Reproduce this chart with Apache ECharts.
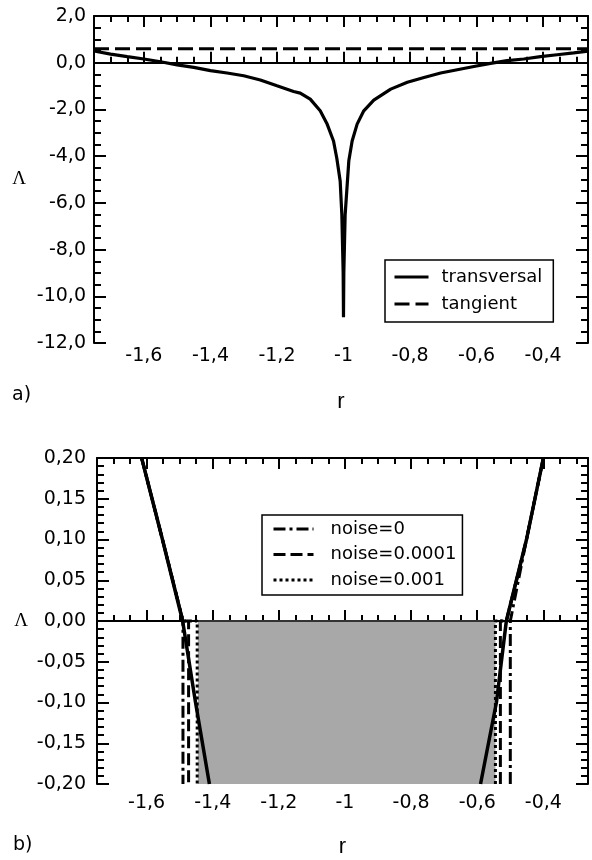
<!DOCTYPE html>
<html><head><meta charset="utf-8">
<script src="https://cdn.jsdelivr.net/npm/echarts@6/dist/echarts.min.js"></script>
<style>html,body{margin:0;padding:0;background:#fff}#c{width:592px;height:860px}</style>
</head><body><div id="c"></div>
<script>
// ---------- data ----------
const xRange = [-1.75, -0.265];
const xMajorTicks = [-1.6, -1.4, -1.2, -1, -0.8, -0.6, -0.4];
const xTickLabels = ['-1,6', '-1,4', '-1,2', '-1', '-0,8', '-0,6', '-0,4'];
const xMinorTicks = [-1.7, -1.65, -1.55, -1.5, -1.45, -1.35, -1.3, -1.25, -1.15, -1.1, -1.05,
  -0.95, -0.9, -0.85, -0.75, -0.7, -0.65, -0.55, -0.5, -0.45, -0.35, -0.3];

// panel a)
const yTopTicks = [2, 0, -2, -4, -6, -8, -10, -12];
const yTopLabels = ['2,0', '0,0', '-2,0', '-4,0', '-6,0', '-8,0', '-10,0', '-12,0'];
const transR = [-1.75, -1.7, -1.65, -1.6, -1.55, -1.5, -1.45, -1.4, -1.35, -1.3, -1.25, -1.2, -1.15, -1.13,
  -1.1, -1.07, -1.05, -1.03, -1.02, -1.01, -1.005, -1.001, -1.0, -0.999, -0.995, -0.984, -0.974, -0.959,
  -0.939, -0.909, -0.858, -0.808, -0.758, -0.708, -0.658, -0.608, -0.558, -0.508, -0.458, -0.408,
  -0.358, -0.308, -0.265];
const transL = [0.5, 0.37, 0.26, 0.16, 0.04, -0.09, -0.2, -0.34, -0.44, -0.56, -0.74, -0.99, -1.23, -1.3,
  -1.56, -2.06, -2.6, -3.35, -4.1, -5.06, -6.5, -9.0, -10.9, -9.0, -6.5, -4.2, -3.35, -2.63,
  -2.06, -1.6, -1.13, -0.84, -0.63, -0.44, -0.3, -0.16, -0.03, 0.09, 0.16, 0.26,
  0.34, 0.42, 0.49];
const tangR = [-1.75, -0.265];
const tangL = [0.6, 0.6];
const zeroR = [-1.75, -0.265];
const zeroL = [0, 0];

// panel b)
const yBotTicks = [0.2, 0.15, 0.1, 0.05, 0, -0.05, -0.1, -0.15, -0.2];
const yBotLabels = ['0,20', '0,15', '0,10', '0,05', '0,00', '-0,05', '-0,10', '-0,15', '-0,20'];
const curveLeftR = [-1.615, -1.552, -1.491, -1.452, -1.41];
const curveLeftL = [0.2, 0.1, 0, -0.1, -0.2];
const curveRightR = [-0.59, -0.542, -0.512, -0.451, -0.4];
const curveRightL = [-0.2, -0.1, 0, 0.1, 0.2];
const noise0LeftR = [-1.615, -1.552, -1.49, -1.49];
const noise0LeftL = [0.2, 0.1, 0, -0.2];
const noise0RightR = [-0.5, -0.5, -0.451, -0.4];
const noise0RightL = [-0.2, 0, 0.1, 0.2];
const noise1LeftR = [-1.615, -1.552, -1.49, -1.473, -1.473];
const noise1LeftL = [0.2, 0.1, 0, 0, -0.2];
const noise1RightR = [-0.53, -0.53, -0.512, -0.451, -0.4];
const noise1RightL = [-0.2, 0, 0, 0.1, 0.2];
const noise2LeftR = [-1.615, -1.552, -1.49, -1.447, -1.447];
const noise2LeftL = [0.2, 0.1, 0, 0, -0.2];
const noise2RightR = [-0.545, -0.545, -0.512, -0.451, -0.4];
const noise2RightL = [-0.2, 0, 0, 0.1, 0.2];
const shadeR = [-1.445, -0.545];
const shadeL = [0, 0];

// ---------- helpers ----------
const zip = (a, b) => a.map((v, i) => [v, b[i]]);
const join = (a, b) => a.concat([null], b);
const lookup = (ticks, labels) => v => {
  const i = ticks.findIndex(t => Math.abs(t - v) < 1e-6);
  return i >= 0 ? labels[i] : '';
};
const FONT = 'DejaVu Sans';
const BLACK = '#000';
const TICKFS = 19;

function xAxes(grid, nameGap) {
  const base = { type: 'value', gridIndex: grid, min: xRange[0], max: xRange[1], splitLine: { show: false } };
  return [
    Object.assign({}, base, {
      position: 'bottom',
      axisLine: { show: true, lineStyle: { color: BLACK, width: 2 } },
      axisTick: { show: true, inside: true, length: 11, customValues: xMajorTicks, lineStyle: { color: BLACK, width: 2 } },
      axisLabel: { show: true, customValues: xMajorTicks, formatter: lookup(xMajorTicks, xTickLabels),
        color: BLACK, fontFamily: FONT, fontSize: TICKFS, margin: grid === 0 ? 4 : 10 },
      name: 'r', nameLocation: 'middle', nameGap: nameGap,
      nameTextStyle: { color: BLACK, fontFamily: 'Liberation Sans', fontSize: 22 }
    }),
    Object.assign({}, base, {
      position: 'bottom', axisLine: { show: false },
      axisTick: { show: true, inside: true, length: 6, customValues: xMinorTicks, lineStyle: { color: BLACK, width: 2 } },
      axisLabel: { show: false }
    }),
    Object.assign({}, base, {
      position: 'top',
      axisLine: { show: true, lineStyle: { color: BLACK, width: 2 } },
      axisTick: { show: true, inside: true, length: 11, customValues: xMajorTicks, lineStyle: { color: BLACK, width: 2 } },
      axisLabel: { show: false }
    }),
    Object.assign({}, base, {
      position: 'top', axisLine: { show: false },
      axisTick: { show: true, inside: true, length: 6, customValues: xMinorTicks, lineStyle: { color: BLACK, width: 2 } },
      axisLabel: { show: false }
    })
  ];
}

function yAxes(grid, min, max, interval, minorSplit, ticks, labels, nameGap) {
  const base = { type: 'value', gridIndex: grid, min: min, max: max, interval: interval, splitLine: { show: false },
    axisLine: { show: true, lineStyle: { color: BLACK, width: 2 } },
    axisTick: { show: true, inside: true, length: 12, lineStyle: { color: BLACK, width: 2 } },
    minorTick: { show: true, splitNumber: minorSplit, length: 7, lineStyle: { color: BLACK, width: 2 } },
    minorSplitLine: { show: false } };
  return [
    Object.assign({}, base, {
      position: 'left',
      axisLabel: { show: true, formatter: lookup(ticks, labels), color: BLACK, fontFamily: FONT, fontSize: TICKFS, margin: grid === 0 ? 8 : 11 },
      name: 'Λ', nameLocation: 'middle', nameRotate: 0, nameGap: nameGap,
      nameTextStyle: { color: BLACK, fontFamily: 'Liberation Serif', fontSize: 19, padding: [8, 0, 0, 0] }
    }),
    Object.assign({}, base, { position: 'right', axisLabel: { show: false } })
  ];
}

const legendCommon = {
  orient: 'vertical', itemHeight: 14, borderColor: BLACK, borderWidth: 1.5, borderRadius: 0,
  backgroundColor: '#fff', itemStyle: { opacity: 0, borderWidth: 0 }, lineStyle: { width: 3 }
};

const option = {
  animation: false,
  backgroundColor: '#fff',
  title: [
    { text: 'a)', left: 12, top: 386, textStyle: { fontFamily: FONT, fontSize: 19, fontWeight: 'normal', color: BLACK }, padding: 0 },
    { text: 'b)', left: 13, top: 836, textStyle: { fontFamily: FONT, fontSize: 19, fontWeight: 'normal', color: BLACK }, padding: 0 }
  ],
  grid: [
    { left: 94, top: 16, right: 4, height: 327 },
    { left: 97, top: 458, right: 4, height: 326 }
  ],
  xAxis: xAxes(0, 48).concat(xAxes(1, 52)),
  yAxis: yAxes(0, -12, 2, 2, 4, yTopTicks, yTopLabels, 68)
    .concat(yAxes(1, -0.2, 0.2, 0.05, 5, yBotTicks, yBotLabels, 69)),
  legend: [
    Object.assign({}, legendCommon, { data: ['transversal', 'tangient'], left: 385, top: 260,
      padding: [8, 11, 9, 8], itemWidth: 34, itemGap: 9,
      textStyle: { fontFamily: FONT, fontSize: 18, color: BLACK, lineHeight: 18, padding: [0, 0, 0, 8] } }),
    Object.assign({}, legendCommon, { data: ['noise=0', 'noise=0.0001', 'noise=0.001'], left: 262, top: 515,
      padding: [5, 6, 6, 10], itemWidth: 40, itemGap: 7.5,
      textStyle: { fontFamily: FONT, fontSize: 18, color: BLACK, lineHeight: 18, padding: [0, 0, 0, 12] } })
  ],
  series: [
    // panel a
    { name: 'zero a', type: 'line', xAxisIndex: 0, yAxisIndex: 0, data: zip(zeroR, zeroL), symbol: 'none',
      lineStyle: { color: BLACK, width: 1.5, type: [2, 3] }, silent: true, z: 1 },
    { name: 'tangient', type: 'line', xAxisIndex: 0, yAxisIndex: 0, data: zip(tangR, tangL), symbol: 'none',
      lineStyle: { color: BLACK, width: 3, type: [15, 6] }, itemStyle: { color: BLACK }, z: 2 },
    { name: 'transversal', type: 'line', xAxisIndex: 0, yAxisIndex: 0, data: zip(transR, transL), symbol: 'none',
      lineStyle: { color: BLACK, width: 3.2 }, itemStyle: { color: BLACK }, z: 3 },
    // panel b
    { name: 'zero b', type: 'line', xAxisIndex: 4, yAxisIndex: 2, data: zip(zeroR, zeroL), symbol: 'none',
      lineStyle: { color: BLACK, width: 1.5, type: [2, 3] }, silent: true, z: 1 },
    { name: 'shade', type: 'line', xAxisIndex: 4, yAxisIndex: 2, data: zip(shadeR, shadeL), symbol: 'none',
      lineStyle: { color: '#333', width: 2 }, areaStyle: { origin: 'start', color: '#a8a8a8', opacity: 1 }, silent: true, z: 2 },
    { name: 'noise=0.001', type: 'line', xAxisIndex: 4, yAxisIndex: 2,
      data: join(zip(noise2LeftR, noise2LeftL), zip(noise2RightR, noise2RightL)), symbol: 'none', connectNulls: false,
      lineStyle: { color: BLACK, width: 3, type: [3, 3] }, itemStyle: { color: BLACK }, z: 3 },
    { name: 'noise=0.0001', type: 'line', xAxisIndex: 4, yAxisIndex: 2,
      data: join(zip(noise1LeftR, noise1LeftL), zip(noise1RightR, noise1RightL)), symbol: 'none', connectNulls: false,
      lineStyle: { color: BLACK, width: 3, type: [12, 5] }, itemStyle: { color: BLACK }, z: 4 },
    { name: 'noise=0', type: 'line', xAxisIndex: 4, yAxisIndex: 2,
      data: join(zip(noise0LeftR, noise0LeftL), zip(noise0RightR, noise0RightL)), symbol: 'none', connectNulls: false,
      lineStyle: { color: BLACK, width: 3, type: [12, 4, 3, 4] }, itemStyle: { color: BLACK }, z: 5 },
    { name: 'curve', type: 'line', xAxisIndex: 4, yAxisIndex: 2,
      data: join(zip(curveLeftR, curveLeftL), zip(curveRightR, curveRightL)), symbol: 'none', connectNulls: false,
      lineStyle: { color: BLACK, width: 3.5 }, itemStyle: { color: BLACK }, z: 6 }
  ]
};
const chart = echarts.init(document.getElementById('c'));
chart.setOption(option);
</script>
</body></html>
